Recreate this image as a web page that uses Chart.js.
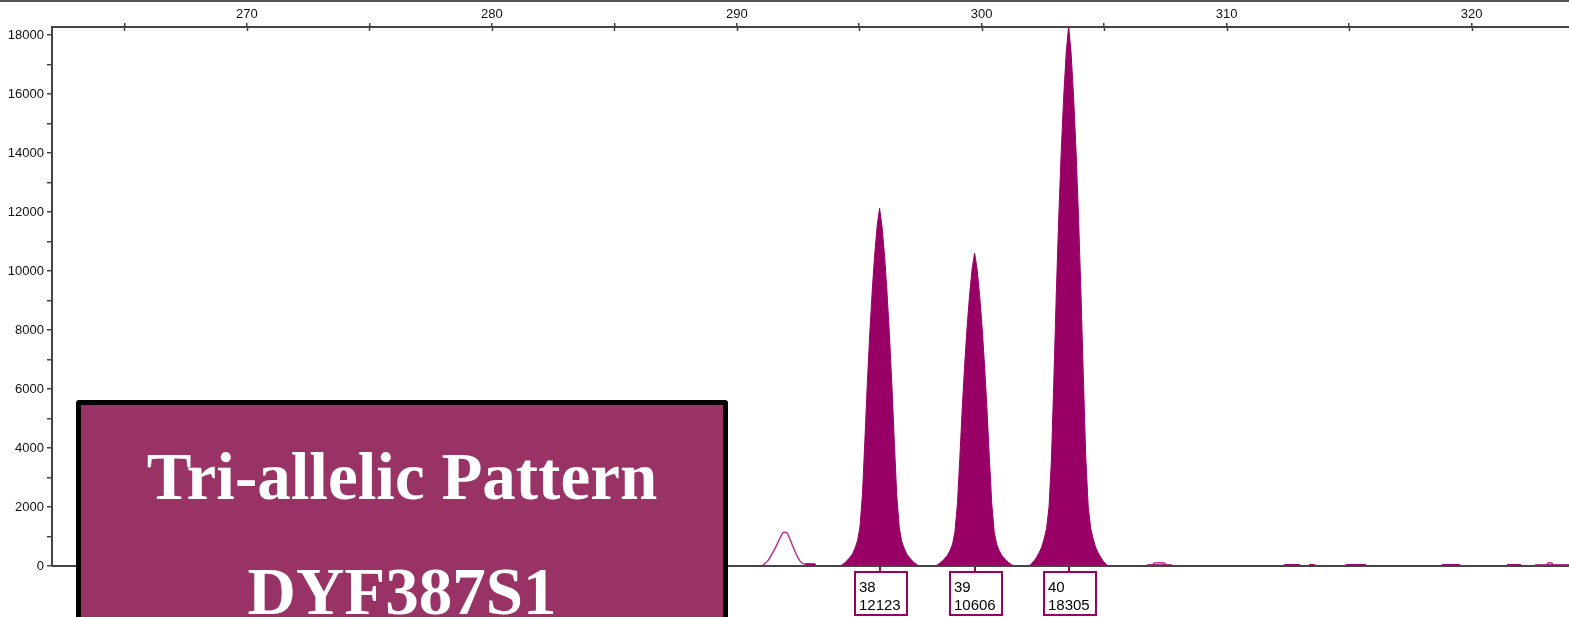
<!DOCTYPE html>
<html>
<head>
<meta charset="utf-8">
<script src="https://cdn.jsdelivr.net/npm/chart.js@4/dist/chart.umd.min.js"></script>
<style>
  html, body { margin: 0; padding: 0; background: #fff; overflow: hidden; }
  #wrap { position: relative; width: 1569px; height: 617px; }
  #note {
    position: absolute; left: 76px; top: 400px; width: 652px; height: 260px;
    box-sizing: border-box; border: 5px solid #000; border-radius: 3px;
    background: #993366;
  }
  #note div {
    position: absolute; left: 0; right: 0; text-align: center;
    font: bold 67px "Liberation Serif", "DejaVu Serif", serif;
    line-height: 66px; color: #fff; white-space: nowrap;
  }
</style>
</head>
<body>
<div id="wrap">
  <canvas id="epg" width="1569" height="617"></canvas>
  <div id="note">
    <div style="top:38px">Tri-allelic Pattern</div>
    <div style="top:153px">DYF387S1</div>
  </div>
</div>
<script>
// ---------- data ----------

const X_MIN = 262.04;
const X_MAX = 323.98;
const Y_MAX = 18271;

const xTickValues = [265, 270, 275, 280, 285, 290, 295, 300, 305, 310, 315, 320];
const xLabelValues = [270, 280, 290, 300, 310, 320];
const yTickValues = [0, 1000, 2000, 3000, 4000, 5000, 6000, 7000, 8000, 9000,
    10000, 11000, 12000, 13000, 14000, 15000, 16000, 17000, 18000];
const yLabelValues = [0, 2000, 4000, 6000, 8000, 10000, 12000, 14000, 16000, 18000];

// called alleles
const alleleNames = ["38", "39", "40"];
const alleleSizes = [295.83, 299.71, 303.55];
const alleleHeights = [12123, 10606, 18305];

// filled peaks
const peak38Size = [294.23, 294.33, 294.43, 294.53, 294.63, 294.73, 294.83, 294.93, 295.03, 295.13, 295.23,
    295.33, 295.43, 295.53, 295.63, 295.73, 295.83, 295.93, 296.03, 296.13, 296.23, 296.33, 296.43,
    296.53, 296.63, 296.73, 296.83, 296.93, 297.03, 297.13, 297.23, 297.33, 297.43];
const peak38Rfu = [0, 60, 120, 210, 300, 420, 610, 850, 1330, 2420, 4240, 6180, 7880, 9330, 10550, 11520,
    12123, 11520, 10550, 9330, 7880, 6180, 4240, 2420, 1330, 850, 610, 420, 300, 210, 120, 60, 0];

const peak39Size = [298.11, 298.21, 298.31, 298.41, 298.51, 298.61, 298.71, 298.81, 298.91, 299.01, 299.11,
    299.21, 299.31, 299.41, 299.51, 299.61, 299.71, 299.81, 299.91, 300.01, 300.11, 300.21, 300.31,
    300.41, 300.51, 300.61, 300.71, 300.81, 300.91, 301.01, 301.11, 301.21, 301.31];
const peak39Rfu = [0, 50, 110, 180, 270, 370, 530, 740, 1170, 2120, 3710, 5410, 6890, 8170, 9230, 10080,
    10606, 10080, 9230, 8170, 6890, 5410, 3710, 2120, 1170, 740, 530, 370, 270, 180, 110, 50, 0];

const peak40Size = [301.95, 302.05, 302.15, 302.25, 302.35, 302.45, 302.55, 302.65, 302.75, 302.85, 302.95,
    303.05, 303.15, 303.25, 303.35, 303.45, 303.55, 303.65, 303.75, 303.85, 303.95, 304.05, 304.15,
    304.25, 304.35, 304.45, 304.55, 304.65, 304.75, 304.85, 304.95, 305.05, 305.15];
const peak40Rfu = [0, 90, 180, 310, 460, 640, 920, 1280, 2010, 3660, 6410, 9340, 11900, 14100, 15930, 17390,
    18305, 17390, 15930, 14100, 11900, 9340, 6410, 3660, 2010, 1280, 920, 640, 460, 310, 180, 90, 0];

// low baseline noise, filled
const noiseSize = [262.04, 292.78, 292.80, 293.19, 293.21, 306.74, 306.76, 307.76, 307.78, 312.33, 312.35,
    312.99, 313.01, 313.36, 313.38, 313.60, 313.62, 314.85, 314.87, 315.68, 315.70, 318.79, 318.81,
    319.52, 319.54, 321.44, 321.46, 322.01, 322.03, 322.59, 322.61, 323.98];
const noiseRfu = [0, 0, 68, 68, 0, 0, 40, 40, 0, 0, 50, 50, 0, 0, 50, 50, 0, 0, 50, 50, 0, 0, 50, 50, 0,
    0, 50, 50, 0, 0, 40, 40];

// uncalled peaks, drawn as outline only (null = gap)
const outlineSize = [291.05, 291.12, 291.29, 291.49, 291.63, 291.76, 291.90, 292.04, 292.10, 292.24, 292.38,
    292.51, 292.65, 292.78, 293.19, 293.22, 300, 306.98, 307.05, 307.45, 307.52, 310, 323.08, 323.12, 323.28, 323.32];
const outlineRfu = [0, 68, 200, 490, 710, 940, 1140, 1130, 1050, 770, 490, 260, 110, 68, 68, 0, null,
    40, 100, 100, 40, null, 40, 100, 100, 40];

// ---------- helpers ----------

function toPoints(xs, ys) {
    return xs.map((x, i) => ({ x: x, y: ys[i] }));
}

const filledData = toPoints(noiseSize, noiseRfu)
    .concat(toPoints(peak38Size, peak38Rfu))
    .concat(toPoints(peak39Size, peak39Rfu))
    .concat(toPoints(peak40Size, peak40Rfu))
    .sort((a, b) => a.x - b.x);

const AXIS = "#444";
const PEAK = "#990066";
const tickFont = { family: '"Liberation Sans", Arial, sans-serif', size: 13 };

// frame, baseline, inner half of the x ticks and allele label boxes
const decorations = {
    id: "decorations",
    afterDatasetsDraw(chart) {
        const ctx = chart.ctx;
        const xs = chart.scales.x;
        const ys = chart.scales.y;
        const area = chart.chartArea;
        ctx.save();

        // top frame
        ctx.fillStyle = "#555";
        ctx.fillRect(0, 0, chart.width, 2);

        // baseline
        const y0 = ys.getPixelForValue(0);
        ctx.strokeStyle = AXIS;
        ctx.lineWidth = 2;
        ctx.beginPath();
        ctx.moveTo(area.left, y0);
        ctx.lineTo(area.right, y0);
        ctx.stroke();

        // x ticks reach into the plot a little
        ctx.lineWidth = 1.5;
        xTickValues.forEach((v) => {
            const px = Math.round(xs.getPixelForValue(v)) + 0.5;
            ctx.beginPath();
            ctx.moveTo(px, area.top);
            ctx.lineTo(px, area.top + 4);
            ctx.stroke();
        });

        // allele call boxes
        ctx.font = '15px "Liberation Sans", Arial, sans-serif';
        ctx.textBaseline = "alphabetic";
        alleleNames.forEach((name, i) => {
            const px = Math.round(xs.getPixelForValue(alleleSizes[i]));
            ctx.strokeStyle = PEAK;
            ctx.lineWidth = 2;
            ctx.beginPath();
            ctx.moveTo(px, y0 + 1);
            ctx.lineTo(px, y0 + 6);
            ctx.stroke();
            const left = px - 25;
            const top = y0 + 6;
            ctx.fillStyle = "#fff";
            ctx.fillRect(left, top, 52, 43);
            ctx.strokeRect(left, top, 52, 43);
            ctx.fillStyle = "#000";
            ctx.fillText(name, left + 4, top + 20);
            ctx.fillText(String(alleleHeights[i]), left + 4, top + 38);
        });
        ctx.restore();
    },
};

new Chart(document.getElementById("epg"), {
    type: "line",
    data: {
        datasets: [
            {
                data: filledData,
                borderColor: PEAK,
                backgroundColor: PEAK,
                borderWidth: 1,
                fill: "origin",
                pointRadius: 0,
                tension: 0,
            },
            {
                data: toPoints(outlineSize, outlineRfu),
                borderColor: "#b8338a",
                borderWidth: 1.5,
                fill: false,
                spanGaps: false,
                pointRadius: 0,
                tension: 0.2,
            },
        ],
    },
    options: {
        responsive: false,
        animation: false,
        parsing: false,
        layout: { padding: { left: 0, right: 0, top: 0, bottom: 51 } },
        plugins: { legend: { display: false }, tooltip: { enabled: false } },
        scales: {
            x: {
                type: "linear",
                position: "top",
                min: X_MIN,
                max: X_MAX,
                afterBuildTicks: (s) => { s.ticks = xTickValues.map((v) => ({ value: v })); },
                afterFit: (s) => { s.height = 27; },
                ticks: {
                    autoSkip: false,
                    maxRotation: 0,
                    padding: 1,
                    color: "#111",
                    font: tickFont,
                    callback: (v) => (xLabelValues.includes(v) ? String(v) : ""),
                },
                grid: { drawOnChartArea: false, tickLength: 4, color: AXIS, lineWidth: 1.5 },
                border: { color: AXIS, width: 2 },
            },
            y: {
                min: 0,
                max: Y_MAX,
                afterBuildTicks: (s) => { s.ticks = yTickValues.map((v) => ({ value: v })); },
                afterFit: (s) => { s.width = 52; },
                ticks: {
                    autoSkip: false,
                    padding: 3,
                    color: "#111",
                    font: tickFont,
                    callback: (v) => (yLabelValues.includes(v) ? String(v) : ""),
                },
                grid: { drawOnChartArea: false, tickLength: 5, color: AXIS, lineWidth: 1.5 },
                border: { color: AXIS, width: 2 },
            },
        },
    },
    plugins: [decorations],
});
</script>
</body>
</html>
